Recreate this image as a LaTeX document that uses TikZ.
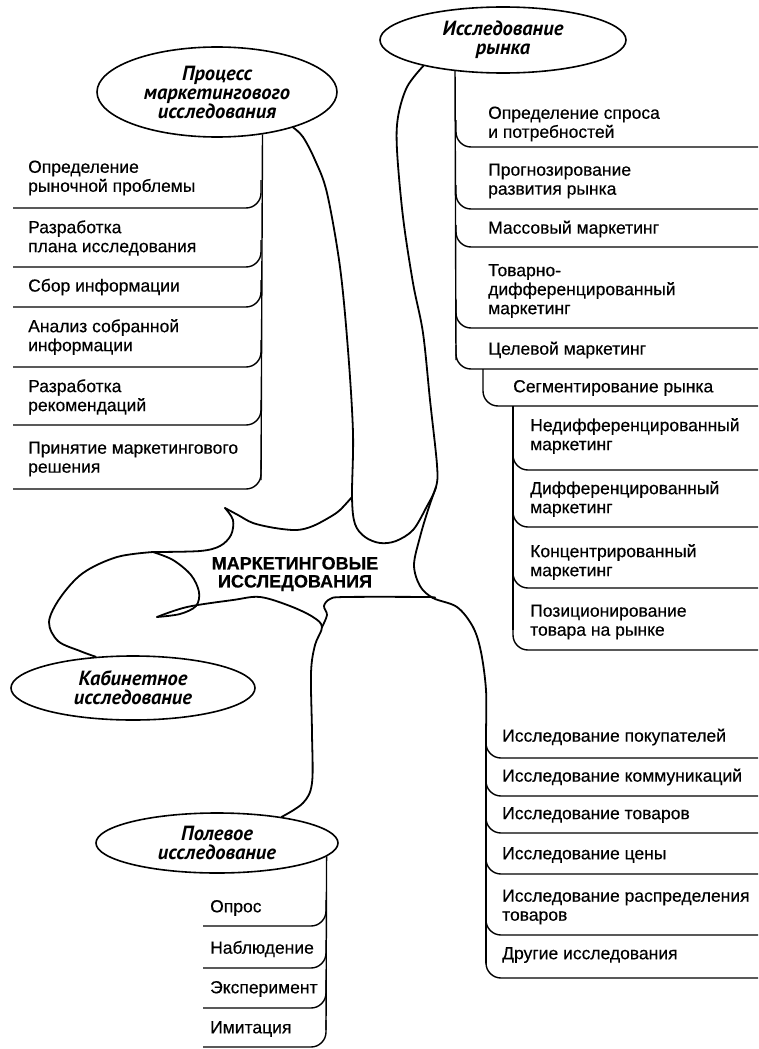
\documentclass[tikz,border=0pt]{standalone}
\usepackage{fontspec}
\setmainfont{Liberation Sans}
\newfontfamily\ovalfont{PT Sans}
\usetikzlibrary{shapes.geometric}

\tikzset{
  oval/.style={draw, ellipse, line width=1.6pt, inner sep=0pt, align=center,
    font=\ovalfont\bfseries\itshape\fontsize{20.5}{19}\selectfont},
  item/.style={anchor=west, align=left, inner sep=0pt,
    font=\fontsize{17.5}{19}\selectfont\addfontfeature{FakeBold=0.4}},
  row/.style={line width=1.4pt, rounded corners=15pt},
  blob/.style={line width=1.8pt, line cap=round, line join=round},
}

\begin{document}
\begin{tikzpicture}[x=1pt,y=-1pt]
\useasboundingbox (0,0) rectangle (758,1049);

% ovals and the centre
\node[oval, minimum width=240pt, minimum height=90pt] (proc) at (217,92) {Процесс\\маркетингового\\исследования};
\node[oval, minimum width=246pt, minimum height=66pt] (mkt) at (503,40) {Исследование\\рынка};
\node[oval, minimum width=244pt, minimum height=64pt] (cab) at (133,688) {Кабинетное\\исследование};
\node[oval, minimum width=242pt, minimum height=60pt] (pol) at (217,843) {Полевое\\исследование};
\node[font=\bfseries\fontsize{18}{18}\selectfont\addfontfeature{FakeBold=0.5}, align=center, inner sep=0pt] (core) at (295,574) {МАРКЕТИНГОВЫЕ\\ИССЛЕДОВАНИЯ};

\coordinate (j1) at (352,497);
\coordinate (j2) at (436,487);
\coordinate (j3) at (433,598);
\coordinate (j4) at (153,552);
\coordinate (j5) at (322,627);
\coordinate (tip1) at (225,508);
\coordinate (tip2) at (157,617);

% the blob
\draw[blob] plot[smooth, tension=0.55] coordinates {(proc.-25) (303,137) (315,160) (327,193) (340,267) (348,350) (353,433) (j1) (355,524) (365,537) (380,543) (396,541) (413,530) (426,508) (j2) (437,465) (430,400) (423,333) (413,283) (403,217) (397,150) (398,117) (407,87) (mkt.-162)};
\draw[blob] plot[smooth, tension=0.55] coordinates {(j1) (340,510) (330,517) (313,526) (297,530) (275,528) (253,523) (238,515) (tip1)};
\draw[blob] plot[smooth, tension=0.55] coordinates {(tip1) (233,520) (231,535) (220,546) (200,551) (j4)};
\draw[blob] plot[smooth, tension=0.55] coordinates {(j4) (117,557) (83,573) (60,598) (49,622) (58,641) (80,651) (cab.140)};
\draw[blob] plot[smooth, tension=0.55] coordinates {(j4) (173,560) (191,575) (199,592) (196,606) (180,614) (tip2)};
\draw[blob] plot[smooth, tension=0.55] coordinates {(tip2) (187,607) (233,600) (260,597) (290,606) (313,617) (j5) (315,645) (311,673) (312,733) (312,783) (303,803) (pol.22)};
\draw[blob] plot[smooth, tension=0.55] coordinates {(j5) (327,615) (324,606) (330,599) (345,597) (427,597) (j3)};
\draw[blob] plot[smooth, tension=0.55] coordinates {(j2) (428,510) (420,537) (414,565) (420,586) (j3) (457,607) (473,627) (481,652) (486,690) (486,730)} -- (486,963);

% process of research
\draw[row] (proc.-43.6) -- (261,480);
\draw[row] (13,208) -| (261,180);
\draw[row] (13,267) -| (261,240);
\draw[row] (13,307) -| (261,280);
\draw[row] (13,367) -| (261,340);
\draw[row] (13,425) -| (261,400);
\draw[row] (13,489) -| (261,460);
\node[item] (p1) at (28,178) {Определение\\рыночной проблемы};
\node[item] (p2) at (28,238) {Разработка\\плана исследования};
\node[item] (p3) at (28,287) {Сбор информации};
\node[item] (p4) at (28,337) {Анализ собранной\\информации};
\node[item] (p5) at (28,397) {Разработка\\рекомендаций};
\node[item] (p6) at (28,459) {Принятие маркетингового\\решения};

% market research
\draw[row] (mkt.-147) -- (456,360);
\draw[row] (456,120) |- (758,147);
\draw[row] (456,185) |- (758,209);
\draw[row] (456,225) |- (758,247);
\draw[row] (456,300) |- (758,328);
\draw[row] (456,345) |- (758,369);
\draw[row] (483,369) |- (758,406);
\draw[row] (513,406) -- (513,630);
\draw[row] (513,440) |- (758,470);
\draw[row] (513,500) |- (758,527);
\draw[row] (513,560) |- (758,588);
\draw[row] (513,620) |- (758,650);
\node[item] (m1) at (488,124) {Определение спроса\\и потребностей};
\node[item] (m2) at (488,181) {Прогнозирование\\развития рынка};
\node[item] (m3) at (488,229) {Массовый маркетинг};
\node[item] (m4) at (488,291) {Товарно-\\дифференцированный\\маркетинг};
\node[item] (m5) at (488,350) {Целевой маркетинг};
\node[item] (s1) at (513,388) {Сегментирование рынка};
\node[item] (s2) at (530,436) {Недифференцированный\\маркетинг};
\node[item] (s3) at (530,499) {Дифференцированный\\маркетинг};
\node[item] (s4) at (530,562) {Концентрированный\\маркетинг};
\node[item] (s5) at (530,622) {Позиционирование\\товара на рынке};

% other research
\draw[row] (486,730) |- (758,758);
\draw[row] (486,770) |- (758,796);
\draw[row] (486,810) |- (758,833);
\draw[row] (486,850) |- (758,874);
\draw[row] (486,905) |- (758,935);
\draw[row] (486,950) |- (758,978);
\node[item] (r1) at (502,737) {Исследование покупателей};
\node[item] (r2) at (502,777) {Исследование коммуникаций};
\node[item] (r3) at (502,815) {Исследование товаров};
\node[item] (r4) at (502,855) {Исследование цены};
\node[item] (r5) at (502,907) {Исследование распределения\\товаров};
\node[item] (r6) at (502,955) {Другие исследования};

% field research
\draw[row] (pol.-7) -- (326,1030);
\draw[row] (203,926) -| (326,900);
\draw[row] (203,968) -| (326,940);
\draw[row] (203,1008) -| (326,980);
\draw[row] (203,1047) -| (326,1020);
\node[item] (f1) at (210,908) {Опрос};
\node[item] (f2) at (210,949) {Наблюдение};
\node[item] (f3) at (210,989) {Эксперимент};
\node[item] (f4) at (210,1029) {Имитация};
\end{tikzpicture}
\end{document}
